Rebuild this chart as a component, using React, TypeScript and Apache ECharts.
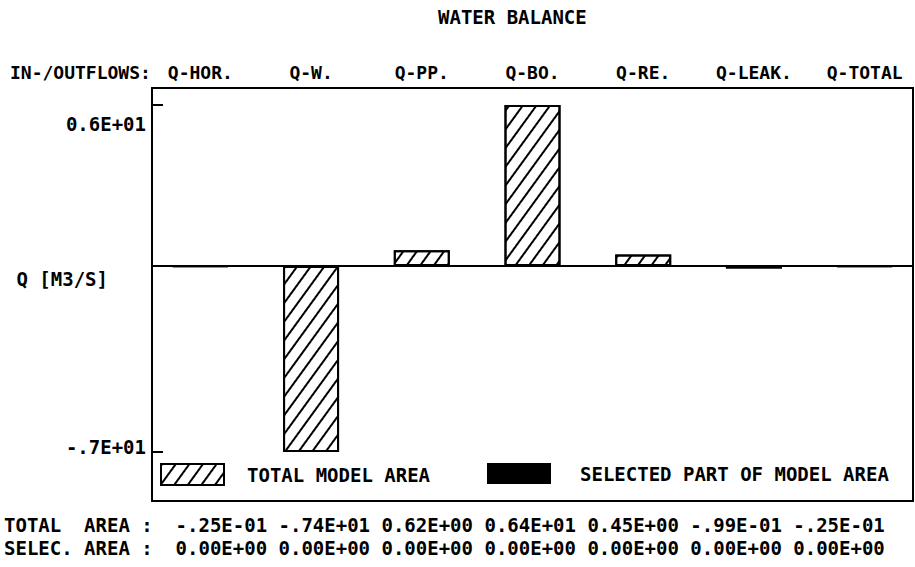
import React, { useEffect, useRef } from "react";
import * as echarts from "echarts";

const chartTitle = "WATER BALANCE";
const rowHeader = "IN-/OUTFLOWS:";
const categories = ["Q-HOR.", "Q-W.", "Q-PP.", "Q-BO.", "Q-RE.", "Q-LEAK.", "Q-TOTAL"];
const totalArea = [-0.025, -7.4, 0.62, 6.4, 0.45, -0.099, -0.025];
const selectedArea = [0, 0, 0, 0, 0, 0, 0];
const seriesNames = ["TOTAL MODEL AREA", "SELECTED PART OF MODEL AREA"];
const yAxisName = "Q [M3/S]";
const tableRowLabels = ["TOTAL  AREA :  ", "SELEC. AREA :  "];

const FONT = "'DejaVu Sans Mono', 'Liberation Mono', monospace";

function fmtE(v: number, digits: number): string {
  if (v === 0) return "0." + "0".repeat(digits) + "E+00";
  const a = Math.abs(v);
  let e = Math.floor(Math.log10(a)) + 1;
  let m = a / Math.pow(10, e);
  if (m.toFixed(digits).startsWith("1")) {
    m = m / 10;
    e += 1;
  }
  const ms = m.toFixed(digits).slice(1);
  const prefix = v < 0 ? "-" : "0";
  const es = (e < 0 ? "-" : "+") + String(Math.abs(e)).padStart(2, "0");
  return prefix + ms + "E" + es;
}

const txt = (size: number) => ({
  fontFamily: FONT,
  fontWeight: "bold" as const,
  fontSize: size,
  color: "#000",
});

export default function App() {
  const ref = useRef<HTMLDivElement>(null);
  useEffect(() => {
    if (!ref.current) return;
    const chart = echarts.init(ref.current, null, { renderer: "svg" });
    const yMin = Math.min(...totalArea, ...selectedArea);
    const yMax = Math.max(...totalArea, ...selectedArea);
    const rowTotal = tableRowLabels[0] + totalArea.map((v) => fmtE(v, 2)).join(" ");
    const rowSel = tableRowLabels[1] + selectedArea.map((v) => fmtE(v, 2)).join(" ");
    const option: any = {
      animation: false,
      backgroundColor: "#fff",
      title: {
        text: chartTitle,
        left: 433,
        top: 2,
        textStyle: txt(19),
      },
      grid: { left: 145, top: 105, width: 775, height: 347, outerBoundsMode: "none", containLabel: false },
      legend: [
        {
          data: [seriesNames[0]],
          left: 160,
          top: 463,
          padding: 0,
          icon: "rect",
          itemWidth: 63,
          itemHeight: 21,
          selectedMode: false,
          textStyle: { ...txt(19), padding: [0, 0, 0, 18] },
        },
        {
          data: [seriesNames[1]],
          left: 487,
          top: 463,
          padding: 0,
          icon: "rect",
          itemWidth: 64,
          itemHeight: 21,
          selectedMode: false,
          textStyle: { ...txt(19), padding: [0, 0, 0, 24] },
        },
      ],
      xAxis: {
        type: "category",
        data: categories,
        position: "top",
        axisLine: { show: false },
        axisTick: { show: false },
        splitLine: { show: false },
        axisLabel: { margin: 24, interval: 0, ...txt(18) },
      },
      yAxis: {
        type: "value",
        min: yMin,
        max: yMax,
        interval: yMax - yMin,
        offset: -7,
        splitLine: { show: false },
        axisLine: { show: false },
        axisTick: { show: true, inside: true, length: 11, lineStyle: { color: "#000", width: 2 } },
        axisLabel: {
          margin: 6,
          formatter: (v: number) => (v > 0 ? `{hi|${fmtE(v, 1)}}` : `{lo|${fmtE(v, 1)}}`),
          rich: {
            hi: { ...txt(19), padding: [37, 0, 0, 0] },
            lo: { ...txt(19), padding: [0, 0, 10, 0] },
          },
        },
        name: yAxisName,
        nameLocation: "middle",
        nameRotate: 0,
        nameGap: 44,
        nameMoveOverlap: false,
        nameTextStyle: { ...txt(19), align: "right", verticalAlign: "middle", padding: [0, 0, 8, 0] },
      },
      series: [
        {
          name: seriesNames[0],
          type: "bar",
          data: totalArea,
          barWidth: 56,
          barGap: "-100%",
          itemStyle: {
            color: "#fff",
            borderColor: "#000",
            borderWidth: 2,
            decal: {
              symbol: "rect",
              symbolSize: 1,
              color: "#000",
              dashArrayX: [1, 0],
              dashArrayY: [1.6, 8.6],
              rotation: -Math.PI * 0.3,
            },
          },
          markLine: {
            silent: true,
            symbol: "none",
            label: { show: false },
            lineStyle: { color: "#000", width: 2, type: "solid" },
            data: [[{ x: 152, yAxis: 0 }, { x: 913, yAxis: 0 }]],
          },
        },
        {
          name: seriesNames[1],
          type: "bar",
          data: selectedArea,
          barWidth: 56,
          barGap: "-100%",
          itemStyle: { color: "#000", borderWidth: 0 },
        },
      ],
      graphic: [
        {
          type: "rect",
          z: -1,
          shape: { x: 152, y: 88, width: 761, height: 413 },
          style: { fill: "none", stroke: "#000", lineWidth: 2 },
        },
        {
          type: "text",
          x: 10,
          y: 72,
          style: { text: rowHeader, font: `bold 18px ${FONT}`, fill: "#000", verticalAlign: "middle" },
        },
        {
          type: "text",
          x: 4,
          y: 525,
          style: { text: rowTotal, font: `bold 19px ${FONT}`, fill: "#000", verticalAlign: "middle" },
        },
        {
          type: "text",
          x: 4,
          y: 548,
          style: { text: rowSel, font: `bold 19px ${FONT}`, fill: "#000", verticalAlign: "middle" },
        },
      ],
    };
    chart.setOption(option);
    return () => chart.dispose();
  }, []);
  return (
    <div
      ref={ref}
      style={{ position: "fixed", left: 0, top: 0, width: 915, height: 567, background: "#fff" }}
    />
  );
}
